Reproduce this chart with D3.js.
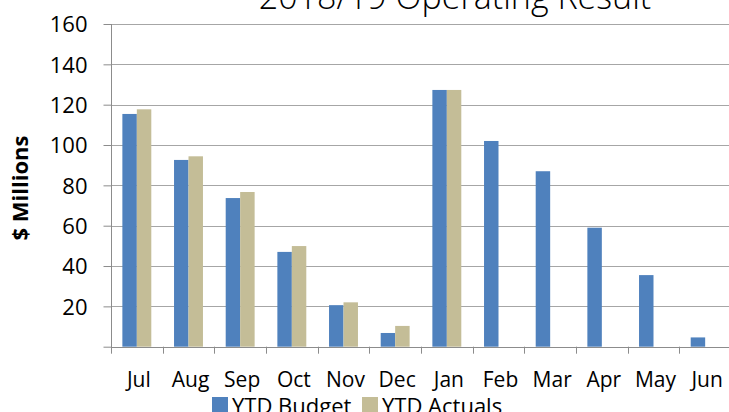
<!DOCTYPE html>
<html>
  <head>
    <meta charset="utf-8">
    <title>2018/19 Operating Result</title>
    <script src="https://d3js.org/d3.v7.min.js"></script>
    <style>
      body { margin: 0; background: #fff; }
      svg { display: block; font-family: "Open Sans", "Liberation Sans", sans-serif; }
      svg g { font-family: "Open Sans", "Liberation Sans", sans-serif; }
      .grid line { stroke: #a6a6a6; }
      .tick text { fill: #000; }
    </style>
  </head>
  <body>
    <svg id="chart" width="729" height="412"></svg>
    <script>
      // chart data
      var months = ["Jul", "Aug", "Sep", "Oct", "Nov", "Dec", "Jan", "Feb", "Mar", "Apr", "May", "Jun"];
      var budget = [115.4, 92.6, 73.7, 47, 20.6, 6.8, 127.3, 102, 87, 59, 35.5, 4.6];
      var actuals = [117.7, 94.4, 76.7, 49.9, 22, 10.3, 127.3, null, null, null, null, null];
      var yTicks = [20, 40, 60, 80, 100, 120, 140, 160];
      var seriesNames = ["YTD Budget", "YTD Actuals"];
      var colors = ["#4f81bd", "#c4bd97"];

      var svg = d3.select("#chart");
      var plotLeft = 111, plotRight = 731, plotTop = 24, plotBottom = 346.7;

      var x = d3.scaleBand()
        .domain(months)
        .range([plotLeft, plotRight]);
      var y = d3.scaleLinear()
        .domain([0, 160])
        .range([plotBottom, plotTop]);
      var barW = x.bandwidth() * 0.28;

      // title (cut off at the top like the original)
      svg.append("text")
        .attr("x", 455)
        .attr("y", 9)
        .attr("text-anchor", "middle")
        .style("font-size", "34px")
        .style("font-weight", "300")
        .text("2018/19 Operating Result");

      // gridlines
      svg.append("g")
        .attr("class", "grid")
        .selectAll("line")
          .data(yTicks)
        .enter().append("line")
          .attr("x1", plotLeft)
          .attr("x2", 729)
          .attr("y1", function(d) { return Math.round(y(d)) + 0.5; })
          .attr("y2", function(d) { return Math.round(y(d)) + 0.5; });

      // y axis
      var yAxis = svg.append("g")
        .attr("transform", "translate(" + (plotLeft + 0.5) + ",0)")
        .call(d3.axisLeft(y).tickValues([0].concat(yTicks)).tickSize(8).tickPadding(16)
          .tickFormat(function(d) { return d === 0 ? "" : d; }));
      yAxis.attr("font-family", null);
      yAxis.selectAll("text").style("font-size", "22px").attr("dy", "0.36em");
      yAxis.selectAll("line, path").attr("stroke", "#8c8c8c");
      yAxis.select(".domain").attr("d", "M0," + plotTop + "V" + (plotBottom + 6));

      // x axis
      var xAxis = svg.append("g")
        .attr("transform", "translate(0," + (Math.round(plotBottom) + 0.5) + ")")
        .call(d3.axisBottom(x).tickSize(0).tickPadding(26));
      xAxis.attr("font-family", null);
      xAxis.select(".domain").attr("stroke", "#8c8c8c").attr("d", "M" + plotLeft + ",0H729");
      xAxis.selectAll("text").style("font-size", "21px").attr("dy", "0.66em").attr("dx", "2px");
      svg.append("g")
        .selectAll("line")
          .data(months)
        .enter().append("line")
          .attr("x1", function(d) { return Math.round(x(d)) + 0.5; })
          .attr("x2", function(d) { return Math.round(x(d)) + 0.5; })
          .attr("y1", plotBottom)
          .attr("y2", plotBottom + 7)
          .attr("stroke", "#8c8c8c");

      // bars
      var series = [budget, actuals];
      series.forEach(function(vals, s) {
        svg.append("g")
          .selectAll("rect")
            .data(months.map(function(m, i) { return { m: m, v: vals[i] }; })
              .filter(function(d) { return d.v != null; }))
          .enter().append("rect")
            .attr("x", function(d) { return x(d.m) + x.bandwidth() / 2 - barW + s * barW; })
            .attr("width", barW)
            .attr("y", function(d) { return y(d.v); })
            .attr("height", function(d) { return y(0) - y(d.v); })
            .attr("fill", colors[s]);
      });

      // y label
      svg.append("text")
        .attr("transform", "translate(28,188) rotate(-90)")
        .attr("text-anchor", "middle")
        .style("font-size", "22px")
        .style("font-weight", "bold")
        .text("$ Millions");

      // legend
      var legendX = [212, 362];
      seriesNames.forEach(function(name, i) {
        svg.append("rect")
          .attr("x", legendX[i])
          .attr("y", 397)
          .attr("width", 16)
          .attr("height", 16)
          .attr("fill", colors[i]);
        svg.append("text")
          .attr("x", legendX[i] + 20)
          .attr("y", 414)
          .style("font-size", "22px")
          .text(name);
      });
    </script>
  </body>
</html>
